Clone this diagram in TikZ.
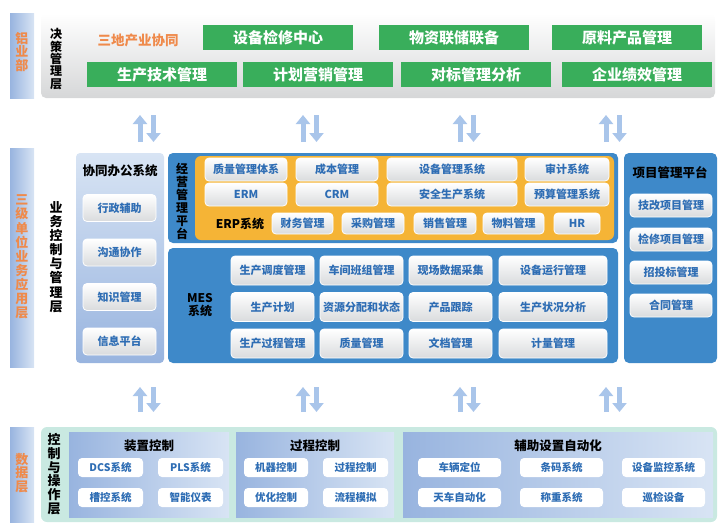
\documentclass[tikz,border=0pt]{standalone}
\usepackage{fontspec}
\setmainfont{Noto Sans CJK SC}
\usetikzlibrary{arrows.meta,positioning}

\definecolor{tgreen}{HTML}{39AE5B}
\definecolor{torange}{HTML}{EF8A4B}
\definecolor{erporange}{HTML}{F5B436}
\definecolor{panelblue}{HTML}{3E89C9}
\definecolor{boxblue}{HTML}{2E6DB4}
\definecolor{barblue}{HTML}{98B4DF}
\definecolor{barlight}{HTML}{D8E4F4}
\definecolor{boxgray}{HTML}{D9DBDD}
\definecolor{arrowblue}{HTML}{A9C5EA}
\definecolor{teal}{HTML}{C9E9E1}
\definecolor{topgray}{HTML}{D6D7D8}

\begin{document}
\begin{tikzpicture}[x=1pt,y=-1pt,
  greenbox/.style={fill=tgreen,text=white,font=\bfseries\fontsize{15}{15}\selectfont,
    minimum width=150pt,minimum height=25pt,inner sep=0pt},
  mbox/.style={draw=white,line width=0.8pt,rounded corners=4pt,top color=white,bottom color=boxgray,
    text=boxblue,font=\bfseries\fontsize{11}{11}\selectfont,inner sep=0pt},
  wbox/.style={fill=white,rounded corners=4pt,text=boxblue,
    font=\bfseries\fontsize{10.5}{10.5}\selectfont,inner sep=0pt,minimum height=19pt},
  vlabel/.style={align=center,inner sep=0pt,font=\bfseries\fontsize{12.5}{13.8}\selectfont},
  title/.style={inner sep=0pt,font=\bfseries\fontsize{12.5}{12.5}\selectfont},
  flowarr/.style={line width=5pt,draw=arrowblue,-{Triangle[width=14pt,length=9pt]}}]
\useasboundingbox (0,0) rectangle (722,530);

% left bars
\shade[left color=barblue,right color=barlight] (10,13) rectangle (34,98);
\shade[left color=barblue,right color=barlight] (10,148) rectangle (34,367);
\shade[left color=barblue,right color=barlight] (10,427) rectangle (34,522);
\node[vlabel,text=torange,font=\bfseries\fontsize{13}{13.3}\selectfont] (lyb) at (22,52) {铝\\业\\部};
\node[vlabel,text=torange,font=\bfseries\fontsize{13}{14.1}\selectfont] (sjdw) at (22,257) {三\\级\\单\\位\\业\\务\\应\\用\\层};
\node[vlabel,text=torange,font=\bfseries\fontsize{13}{13.3}\selectfont] (sjc) at (22,473) {数\\据\\层};

% top layer
\shade[rounded corners=5pt,top color=white,bottom color=topgray] (41,13) rectangle (715,98);
\node[vlabel,font=\bfseries\fontsize{12}{12.4}\selectfont] (jc) at (56,59) {决\\策\\管\\理\\层};
\node[text=torange,font=\bfseries\fontsize{13.5}{13.5}\selectfont] (sd) at (138,40) {三地产业协同};

\node[greenbox] (g1) at (278,37.5) {设备检修中心};
\node[greenbox] (g2) at (454,37.5) {物资联储联备};
\node[greenbox] (g3) at (627,37.5) {原料产品管理};
\node[greenbox] (g4) at (162,74.5) {生产技术管理};
\node[greenbox] (g5) at (318,74.5) {计划营销管理};
\node[greenbox] (g6) at (476,74.5) {对标管理分析};
\node[greenbox] (g7) at (637,74.5) {企业绩效管理};

% arrows between layers
\foreach \x [count=\i] in {147,310,467,613}{
  \coordinate (ua\i) at (\x-7,142);   \coordinate (ub\i) at (\x-7,115);
  \coordinate (da\i) at (\x+6.5,115); \coordinate (db\i) at (\x+6.5,142);
  \coordinate (uc\i) at (\x-7,412);   \coordinate (ud\i) at (\x-7,387);
  \coordinate (dc\i) at (\x+6.5,387); \coordinate (dd\i) at (\x+6.5,412);
  \draw[flowarr] (ua\i) -- (ub\i);
  \draw[flowarr] (da\i) -- (db\i);
  \draw[flowarr] (uc\i) -- (ud\i);
  \draw[flowarr] (dc\i) -- (dd\i);
}

% middle layer
\node[vlabel,font=\bfseries\fontsize{13}{14.1}\selectfont] (ywkz) at (56,257) {业\\务\\控\\制\\与\\管\\理\\层};

\shade[rounded corners=4pt,top color=barlight,bottom color=barblue] (76,153) rectangle (164,363);
\node[title] (xtbg) at (120,171) {协同办公系统};
\foreach \t [count=\i] in {行政辅助,沟通协作,知识管理,信息平台}
  \node[mbox,minimum width=73pt,minimum height=27pt] (xt\i) at (119.5,163.5+44.5*\i) {\t};

\fill[panelblue,rounded corners=5pt] (168,153) rectangle (618,243);
\node[vlabel,font=\bfseries\fontsize{12}{13}\selectfont] (jygl) at (182,201) {经\\营\\管\\理\\平\\台};
\fill[erporange,rounded corners=6pt] (195,156) rectangle (614,240);

\node[mbox,minimum width=82pt,minimum height=23pt] (e1) at (246,169.5) {质量管理体系};
\node[mbox,minimum width=82pt,minimum height=23pt] (e2) at (337,169.5) {成本管理};
\node[mbox,minimum width=130pt,minimum height=23pt] (e3) at (452,169.5) {设备管理系统};
\node[mbox,minimum width=84pt,minimum height=23pt] (e4) at (567,169.5) {审计系统};
\node[mbox,minimum width=82pt,minimum height=23pt] (e5) at (246,194.5) {ERM};
\node[mbox,minimum width=82pt,minimum height=23pt] (e6) at (337,194.5) {CRM};
\node[mbox,minimum width=130pt,minimum height=23pt] (e7) at (452,194.5) {安全生产系统};
\node[mbox,minimum width=84pt,minimum height=23pt] (e8) at (567,194.5) {预算管理系统};

\node[title,font=\bfseries\fontsize{12}{12}\selectfont] (erp) at (240,223.5) {ERP系统};
\node[mbox,minimum width=61pt,minimum height=21pt] (f1) at (302.5,223.5) {财务管理};
\node[mbox,minimum width=62pt,minimum height=21pt] (f2) at (373,223.5) {采购管理};
\node[mbox,minimum width=62pt,minimum height=21pt] (f3) at (445,223.5) {销售管理};
\node[mbox,minimum width=61pt,minimum height=21pt] (f4) at (513.5,223.5) {物料管理};
\node[mbox,minimum width=46pt,minimum height=21pt] (f5) at (577,223.5) {HR};

\fill[panelblue,rounded corners=5pt] (168,248) rectangle (618,363);
\node[vlabel,font=\bfseries\fontsize{12}{13}\selectfont] (mes) at (200,305) {MES\\系统};
\foreach \a/\b/\c/\d [count=\i] in {生产调度管理/车间班组管理/现场数据采集/设备运行管理,
    生产计划/资源分配和状态/产品跟踪/生产状况分析,
    生产过程管理/质量管理/文档管理/计量管理}{
  \node[mbox,minimum width=83pt,minimum height=29pt] (m\i a) at (272.5,234+36.5*\i) {\a};
  \node[mbox,minimum width=83pt,minimum height=29pt] (m\i b) at (361.5,234+36.5*\i) {\b};
  \node[mbox,minimum width=83pt,minimum height=29pt] (m\i c) at (450.5,234+36.5*\i) {\c};
  \node[mbox,minimum width=108pt,minimum height=29pt] (m\i d) at (553,234+36.5*\i) {\d};
}

\fill[panelblue,rounded corners=5pt] (624,153) rectangle (717,363);
\node[title] (xmgl) at (670,173) {项目管理平台};
\foreach \t/\y [count=\i] in {技改项目管理/205.5,检修项目管理/239.5,招投标管理/272.5,合同管理/305.5}
  \node[mbox,minimum width=82pt,minimum height=23pt] (p\i) at (671,\y) {\t};

% bottom layer
\fill[teal,rounded corners=6pt] (41,427) rectangle (717,522);
\node[vlabel,font=\bfseries\fontsize{13}{13.8}\selectfont] (kzcz) at (54,474) {控\\制\\与\\操\\作\\层};

\shade[left color=barblue,right color=barlight] (69,432) rectangle (229,517);
\shade[left color=barblue,right color=barlight] (236,432) rectangle (394,517);
\shade[left color=barblue,right color=barlight] (403,432) rectangle (713,517);
\node[title] (zzkz) at (149,446) {装置控制};
\node[title] (gckz) at (315,446) {过程控制};
\node[title] (fzsz) at (558,446) {辅助设置自动化};

\node[wbox,minimum width=65pt] (d1) at (110.5,467.5) {DCS系统};
\node[wbox,minimum width=65pt] (d2) at (190.5,467.5) {PLS系统};
\node[wbox,minimum width=65pt] (d3) at (110.5,497.5) {槽控系统};
\node[wbox,minimum width=65pt] (d4) at (190.5,497.5) {智能仪表};
\node[wbox,minimum width=64pt] (c1) at (276,467.5) {机器控制};
\node[wbox,minimum width=65pt] (c2) at (355.5,467.5) {过程控制};
\node[wbox,minimum width=64pt] (c3) at (276,497.5) {优化控制};
\node[wbox,minimum width=65pt] (c4) at (355.5,497.5) {流程模拟};
\node[wbox,minimum width=83pt] (a1) at (459.5,467.5) {车辆定位};
\node[wbox,minimum width=83pt] (a2) at (561.5,467.5) {条码系统};
\node[wbox,minimum width=83pt] (a3) at (663.5,467.5) {设备监控系统};
\node[wbox,minimum width=83pt] (a4) at (459.5,497.5) {天车自动化};
\node[wbox,minimum width=83pt] (a5) at (561.5,497.5) {称重系统};
\node[wbox,minimum width=83pt] (a6) at (663.5,497.5) {巡检设备};

\end{tikzpicture}
\end{document}
